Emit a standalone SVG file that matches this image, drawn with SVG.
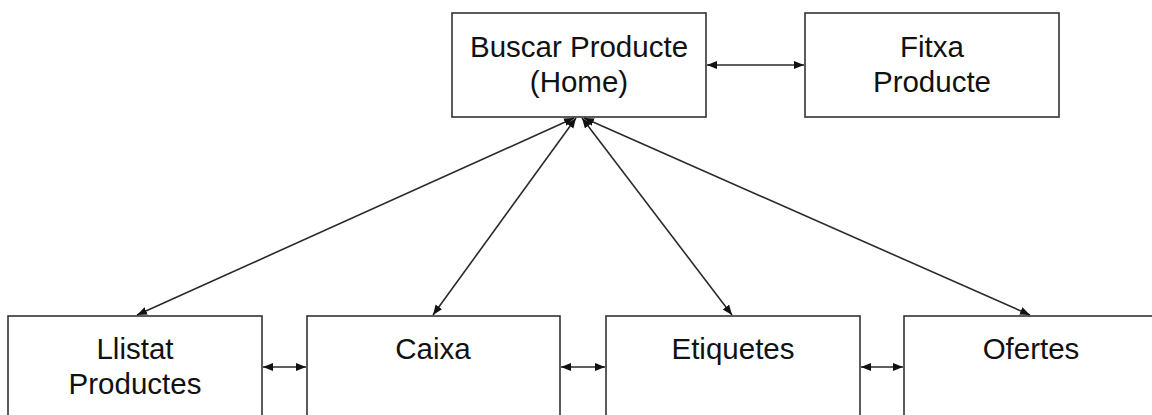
<svg xmlns="http://www.w3.org/2000/svg" width="1152" height="415" viewBox="0 0 1152 415">
  <style>
    .box { fill: #ffffff; stroke: #333333; stroke-width: 1.6; }
    .lbl { font-family: "Liberation Sans", Arial, sans-serif; font-size: 29.5px; fill: #111111; text-anchor: middle; }
    .conn { stroke: #2a2a2a; stroke-width: 1.6; fill: none; marker-start: url(#arr); marker-end: url(#arr); }
  </style>
  <defs>
    <marker id="arr" markerUnits="userSpaceOnUse" markerWidth="11" markerHeight="9" refX="10" refY="4" orient="auto-start-reverse">
      <path d="M0,0 L10,4 L0,8 z" fill="#111111"/>
    </marker>
  </defs>
  <rect width="1152" height="415" fill="#ffffff"/>

  <g id="buscar">
    <rect class="box" x="452" y="13" width="254" height="104"/>
    <text class="lbl" x="579" y="57">Buscar Producte</text>
    <text class="lbl" x="579" y="92">(Home)</text>
  </g>
  <g id="fitxa">
    <rect class="box" x="805" y="13" width="254" height="104"/>
    <text class="lbl" x="932" y="57">Fitxa</text>
    <text class="lbl" x="932" y="92">Producte</text>
  </g>
  <g id="llistat">
    <rect class="box" x="8" y="316" width="254" height="120"/>
    <text class="lbl" x="135" y="359">Llistat</text>
    <text class="lbl" x="135" y="394">Productes</text>
  </g>
  <g id="caixa">
    <rect class="box" x="307" y="316" width="253" height="120"/>
    <text class="lbl" x="433" y="359">Caixa</text>
  </g>
  <g id="etiquetes">
    <rect class="box" x="606" y="316" width="254" height="120"/>
    <text class="lbl" x="733" y="359">Etiquetes</text>
  </g>
  <g id="ofertes">
    <rect class="box" x="904" y="316" width="254" height="120"/>
    <text class="lbl" x="1031" y="359">Ofertes</text>
  </g>

  <g id="connectors">
    <line class="conn" x1="707" y1="65" x2="804" y2="65"/>
    <line class="conn" x1="574" y1="118" x2="137" y2="315"/>
    <line class="conn" x1="576" y1="118" x2="433" y2="315"/>
    <line class="conn" x1="582" y1="118" x2="732" y2="315"/>
    <line class="conn" x1="584" y1="118" x2="1030" y2="315"/>
    <line class="conn" x1="263" y1="367" x2="306" y2="367"/>
    <line class="conn" x1="561" y1="367" x2="605" y2="367"/>
    <line class="conn" x1="861" y1="367" x2="903" y2="367"/>
  </g>
</svg>
